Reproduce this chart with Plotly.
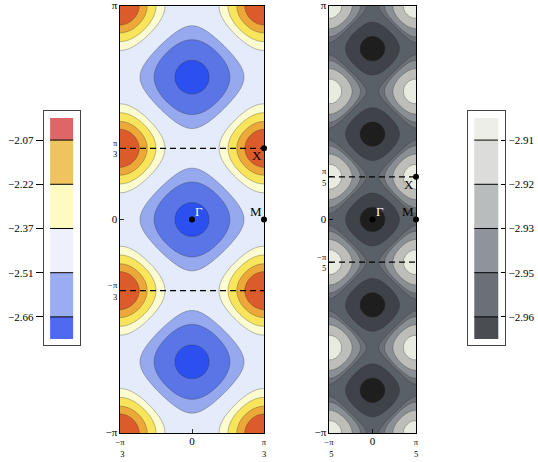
import numpy as np
import plotly.graph_objects as go

PI = np.pi
FONT = "Liberation Serif"

# ---------------- data ----------------
# left panel: band energy E = E0 - t*(cos(k kx) + cos(k ky))
left_k = 3
left_E0 = -2.365
left_t = 0.18
left_levels = [-2.676, -2.530, -2.430, -2.253, -2.185, -2.117, -2.066]
left_colors = ['#2c4ff0', '#5a76e6', '#96a8ee', '#e4ebfa',
               '#fdfbd0', '#f9e55c', '#eca93a', '#dc5b2a']
left_cbar_labels = ['−2.66', '−2.51', '−2.37', '−2.22', '−2.07']
left_cbar_colors = ['#4f6af0', '#9aacf2', '#eef1fb', '#fdfbc2', '#efc35e', '#df6666']

# right panel
right_k = 5
right_E0 = -2.9325
right_t = 0.0158
right_levels = [-2.9578, -2.9425, -2.9309, -2.9270, -2.9183, -2.9074]
right_colors = ['#1e1e1f', '#3f4349', '#5a6067', '#6c7178',
                '#8a8f94', '#bdbeba', '#e8ebdf']
right_cbar_labels = ['−2.96', '−2.95', '−2.93', '−2.92', '−2.91']
right_cbar_colors = ['#4a4d52', '#6a7076', '#8e9499', '#b9bcbd', '#dcdddb', '#eeeee8']

# high-symmetry points (in units of pi/k)
point_names = ['Γ', 'M', 'X']
point_kx = [0, 1, 1]
point_ky = [0, 0, 1]

# ---------------- layout helpers ----------------
W, H = 538, 462


def px_x(p):
    return p / W


def px_y(p):
    return 1 - p / H


def energy(k, E0, t, nx, ny):
    kx = np.linspace(-PI / k, PI / k, nx)
    ky = np.linspace(-PI, PI, ny)
    X, Y = np.meshgrid(kx, ky)
    E = E0 - t * (np.cos(k * X) + np.cos(k * Y))
    return kx, ky, E


def to_index(E, levels):
    lv = np.asarray(levels)
    xp = np.concatenate([[E.min() - 1], lv, [E.max() + 1]])
    fp = np.arange(len(xp), dtype=float)
    return np.interp(E, xp, fp)


def stepped_scale(colors):
    n = len(colors) - 1
    return [[i / n, c] for i, c in enumerate(colors)]


SM = "<span style='font-size:8.5px;color:black'>"


def frac(num, den, neg=False):
    if neg:
        top = SM + "−" + num + "</span>"
        bot = SM + "<span style='color:rgba(0,0,0,0)'>−</span>" + den + "</span>"
    else:
        top = SM + num + "</span>"
        bot = SM + den + "</span>"
    return top + "<br>" + bot


def big(t):
    return "<span style='font-size:11px;color:black'>" + t + "</span>"


fig = go.Figure()

panels = [
    dict(k=left_k, E0=left_E0, t=left_t, levels=left_levels, colors=left_colors,
         xa='x', ya='y', nx=181, ny=541, den='3',
         xdom=[px_x(120), px_x(264)]),
    dict(k=right_k, E0=right_E0, t=right_t, levels=right_levels, colors=right_colors,
         xa='x2', ya='y2', nx=121, ny=601, den='5',
         xdom=[px_x(329), px_x(416)]),
]
ydom = [px_y(433), px_y(6)]

for i, p in enumerate(panels):
    kx, ky, E = energy(p['k'], p['E0'], p['t'], p['nx'], p['ny'])
    Z = to_index(E, p['levels'])
    n = len(p['levels'])
    fig.add_trace(go.Contour(
        x=kx, y=ky, z=Z, xaxis=p['xa'], yaxis=p['ya'],
        autocontour=False,
        contours=dict(start=1, end=n, size=1, coloring='fill'),
        colorscale=stepped_scale(p['colors']),
        line=dict(color='rgba(40,40,40,0.45)', width=0.7, smoothing=1),
        showscale=False, hoverinfo='skip'))
    k = p['k']
    # dashed lines at ky = +-pi/k
    fig.add_trace(go.Scatter(
        x=[-PI / k, PI / k, None, -PI / k, PI / k],
        y=[PI / k, PI / k, None, -PI / k, -PI / k],
        mode='lines', line=dict(color='black', width=1.2, dash='6px,4px'),
        xaxis=p['xa'], yaxis=p['ya'], hoverinfo='skip', showlegend=False))
    # points
    px = [v * PI / k for v in point_kx]
    py = [v * PI / k for v in point_ky]
    fig.add_trace(go.Scatter(
        x=px, y=py, mode='markers', marker=dict(color='black', size=6),
        cliponaxis=False, xaxis=p['xa'], yaxis=p['ya'],
        hoverinfo='skip', showlegend=False))
    axn = '' if i == 0 else '2'
    ref_x, ref_y = p['xa'], p['ya']
    fig.add_annotation(x=px[0], y=py[0], xref=ref_x, yref=ref_y, text=point_names[0],
                       showarrow=False, xanchor='left', yanchor='bottom',
                       xshift=1, yshift=-1,
                       font=dict(family=FONT, size=13, color='white'))
    fig.add_annotation(x=px[1], y=py[1], xref=ref_x, yref=ref_y, text=point_names[1],
                       showarrow=False, xanchor='right', yanchor='bottom',
                       xshift=0, yshift=-1,
                       font=dict(family=FONT, size=13, color='black'))
    fig.add_annotation(x=px[2], y=py[2], xref=ref_x, yref=ref_y, text=point_names[2],
                       showarrow=False, xanchor='right', yanchor='top',
                       xshift=0, yshift=2,
                       font=dict(family=FONT, size=13, color='black'))

    d = p['den']
    axis_common = dict(showline=True, mirror=True, linecolor='black', linewidth=1,
                       ticks='inside', ticklen=4, tickwidth=0.8, tickcolor='black',
                       showgrid=False, zeroline=False, ticklabeloverflow='allow',
                       automargin=False,
                       tickfont=dict(family=FONT, size=9, color='black'))
    fig.update_layout(**{
        'xaxis' + axn: dict(domain=p['xdom'], range=[-PI / k, PI / k],
                            anchor=ref_y,
                            tickvals=[-PI / k, 0, PI / k],
                            ticktext=[frac('π', d, neg=True), big('0'), frac('π', d)],
                            **axis_common),
        'yaxis' + axn: dict(domain=ydom, range=[-PI, PI], anchor=ref_x,
                            tickvals=[-PI, -PI / k, 0, PI / k, PI],
                            ticktext=[big('−π'), frac('π', d, neg=True), big('0'),
                                      frac('π', d), big('π')],
                            **axis_common),
    })

# ---------------- colour bars ----------------
cbars = [
    dict(colors=left_cbar_colors, labels=left_cbar_labels, xa='x3', ya='y3',
         xdom=[px_x(44), px_x(80)], side='left', ticks='outside', ticklen=7),
    dict(colors=right_cbar_colors, labels=right_cbar_labels, xa='x4', ya='y4',
         xdom=[px_x(468), px_x(505)], side='right', ticks='inside', ticklen=4),
]
bar_x = [0.17, 0.81]
nb = len(left_cbar_colors)
edges = [0] + [i + 0.5 for i in range(nb - 1)] + [nb - 1]
for j, cb in enumerate(cbars):
    fig.add_trace(go.Heatmap(
        x=bar_x, y=edges, z=[[i] for i in range(nb)],
        zmin=0, zmax=nb - 1, colorscale=stepped_scale(cb['colors']),
        showscale=False, xaxis=cb['xa'], yaxis=cb['ya'], hoverinfo='skip'))
    lx, ly = [], []
    for e in edges[1:-1]:
        lx += [bar_x[0], bar_x[1], None]
        ly += [e, e, None]
    fig.add_trace(go.Scatter(x=lx, y=ly, mode='lines',
                             line=dict(color='black', width=1),
                             xaxis=cb['xa'], yaxis=cb['ya'],
                             hoverinfo='skip', showlegend=False))
    n = str(j + 3)
    fig.update_layout(**{
        'xaxis' + n: dict(domain=cb['xdom'], range=[0, 1], anchor='y' + n,
                          showline=True, mirror=True, linecolor='#444', linewidth=1.3,
                          showticklabels=False, ticks='', showgrid=False,
                          zeroline=False, fixedrange=True, automargin=False),
        'yaxis' + n: dict(domain=[px_y(345), px_y(111)],
                          range=[-0.136, nb - 1 + 0.158], anchor='x' + n,
                          side=cb['side'], automargin=False,
                          showline=True, mirror=True, linecolor='#444', linewidth=1.3,
                          tickvals=edges[1:-1], ticktext=cb['labels'],
                          ticks=cb['ticks'], ticklen=cb['ticklen'], tickcolor='black',
                          showgrid=False, zeroline=False,
                          tickfont=dict(family=FONT, size=11, color='black')),
    })

fig.update_layout(width=W, height=H, margin=dict(l=0, r=0, t=0, b=0),
                  paper_bgcolor='white', plot_bgcolor='white', showlegend=False)

# the page body gets no margin so the figure sits at the window's corner
fig.write_html("out.html",
               config={'displayModeBar': False, 'staticPlot': True},
               post_script="document.body.style.margin='0px';"
                           "document.body.style.overflow='hidden';")
